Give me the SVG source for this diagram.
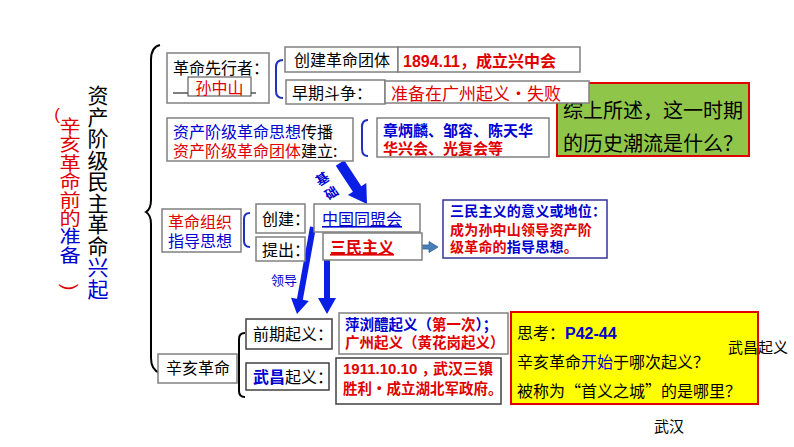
<svg xmlns="http://www.w3.org/2000/svg" width="794" height="447" viewBox="0 0 794 447">
<style>
.box{fill:#fff;stroke:#808080;stroke-width:1.5}
.dk{fill:#fff;stroke:#404040;stroke-width:1.5}
.t{font-family:"Liberation Sans","Noto Sans CJK SC",sans-serif;fill:#000}
.c{font-family:"Noto Sans CJK SC",sans-serif}
.lat{font-family:"Liberation Sans",sans-serif}
.v{writing-mode:vertical-rl}
.s13{font-size:13px}
.s14{font-size:14px}
.s145{font-size:14.5px}
.s15{font-size:15px}
.s16{font-size:16px}
.s17{font-size:17px}
.s18{font-size:18px}
.s20{font-size:20px}
.s21{font-size:21px}
.r{fill:#e00000}
.b{fill:#0000d0}
.bd{font-weight:bold}
.br{fill:none;stroke:#2030c0;stroke-width:2}
.bk{fill:none;stroke:#000;stroke-width:2}
.arr{fill:#0a1ee6}
</style>
<rect width="794" height="447" fill="#fff"/>

<g id="title">
<text class="t c s21 v" x="98" y="85" letter-spacing="0.5">资产阶级民主革命<tspan class="b">兴起</tspan></text>
<text class="t lat r s17" x="57" y="120" text-anchor="middle">(</text>
<g transform="translate(70,0) scale(1.18,1)">
<text class="t c r s18 v" x="0" y="117" letter-spacing="0.5">辛亥革命前的<tspan class="b">准备</tspan></text>
</g>
<text class="t lat r s20" transform="translate(69,287) rotate(90)" y="6" text-anchor="middle">)</text>
</g>

<g id="connectors">
<path class="bk" stroke-width="3.5" d="M160,45 Q151,47 151,60 L151,200 Q151,209 146,212 Q151,215 151,224 L151,358 Q151,370 160,373"/>
<path class="br" d="M283,60 Q276,60 276,67 L276,91 Q276,98 283,98"/>
<path class="br" d="M368,120 Q362,120 362,127 L362,149 Q362,156 368,156"/>
<path class="br" d="M250,213 Q244,213 244,219 L244,241 Q244,247 250,247"/>
<path class="bk" stroke-width="1.8" d="M245,333 Q239,333 239,339 L239,391 Q239,397 245,397"/>
<polygon class="arr" points="344.2,160.25 361.3,186.25 366.3,182.95 367,204 347.9,195.05 352.9,191.75 335.8,165.75"/>
<polygon class="arr" points="310.05,226.46 296.95,298.76 291,297.7 297,314 308.8,300.9 302.85,299.84 315.95,227.54"/>
<polygon class="arr" points="324,260 330,260 330,298 336,298 327,314 318,298 324,298"/>
<polygon fill="#4a7ebb" stroke="#2f5d92" stroke-width="0.8" points="408,245 429,245 429,241.5 438,247 429,252.5 429,249 408,249"/>
<g class="t c b bd s13" text-anchor="middle">
<text transform="translate(325,183) rotate(-33)">基</text>
<text transform="translate(334,197) rotate(-33)">础</text>
</g>
<text class="t c b s13" x="271" y="285">领导</text>
</g>

<g id="pioneer">
<rect class="box" x="167" y="53" width="102" height="50"/>
<text class="t c s16" x="173" y="74">革命先行者：</text>
<line x1="173" y1="93" x2="256" y2="93" stroke="#000" stroke-width="1.2"/>
<rect x="188" y="77" width="63" height="19" fill="#fff" stroke="#404040" stroke-width="1"/>
<text class="t c r s16" x="219.5" y="93.5" text-anchor="middle">孙中山</text>
</g>

<g id="found">
<rect class="box" x="285" y="47" width="113" height="25"/>
<text class="t c s16" x="294" y="66">创建革命团体</text>
</g>
<g id="xingzhonghui">
<rect class="box" x="398" y="47" width="182" height="25"/>
<text class="t r bd s16" x="403" y="67">1894.11，<tspan x="476">成立兴中会</tspan></text>
</g>

<g id="summary">
<rect x="557" y="83" width="192" height="73" fill="#8fc64a" stroke="#e00000" stroke-width="2"/>
<text class="t c s20" x="563" y="118">综上所述，这一时期</text>
<text class="t c s20" x="563" y="151">的历史潮流是什么？</text>
</g>

<g id="early">
<rect class="box" x="286" y="80" width="99" height="24"/>
<text class="t c s16" x="292" y="99">早期斗争：</text>
</g>
<g id="guangzhou">
<rect class="box" x="385" y="81" width="204" height="22"/>
<text class="t c r s17" x="391" y="100">准备在广州起义·失败</text>
</g>

<g id="thought">
<rect class="box" x="167" y="118" width="186" height="43"/>
<text class="t c s16" x="173" y="138"><tspan class="b">资产阶级革命思想</tspan>传播</text>
<text class="t c s16" x="173" y="156.5"><tspan class="r">资产阶级革命团体</tspan>建立:</text>
</g>
<g id="people">
<rect class="box" x="377" y="118" width="172" height="39"/>
<text class="t c b bd s15" x="383" y="136">章炳麟、邹容、陈天华</text>
<text class="t c r bd s15" x="383" y="154">华兴会、光复会等</text>
</g>

<g id="org">
<rect class="box" x="162" y="209" width="79" height="43"/>
<text class="t c r s16" x="168" y="228">革命组织</text>
<text class="t c b s16" x="168" y="247">指导思想</text>
</g>
<g id="create">
<rect class="box" x="256" y="204" width="49" height="29"/>
<text class="t c s16" x="262" y="225">创建：</text>
</g>
<g id="propose">
<rect class="box" x="256" y="237" width="49" height="24"/>
<text class="t c s16" x="262" y="256">提出：</text>
</g>
<g id="tongmenghui">
<rect class="box" x="314" y="204" width="106" height="28"/>
<text class="t c b s16" x="322" y="225" text-decoration="underline">中国同盟会</text>
</g>
<g id="sanmin">
<rect class="box" x="323" y="233" width="99" height="27"/>
<text class="t c r bd s16" x="330" y="253" text-decoration="underline">三民主义</text>
</g>
<g id="meaning">
<rect x="443" y="200" width="164" height="58" fill="#fff" stroke="#333399" stroke-width="1.5"/>
<g class="t c bd s14" letter-spacing="0.2">
<text class="b" x="450" y="216">三民主义的意义或地位：</text>
<text class="r" x="450" y="235">成为孙中山领导资产阶</text>
<text class="r" x="450" y="252">级革命的<tspan class="b">指导思想</tspan>。</text>
</g>
</g>

<g id="xinhai">
<rect class="box" x="158" y="354" width="79" height="29"/>
<text class="t c s16" x="166" y="374">辛亥革命</text>
</g>
<g id="earlyrising">
<rect class="dk" x="246" y="319" width="86" height="30"/>
<text class="t c s16" x="253" y="340">前期起义：</text>
</g>
<g id="wuchang">
<rect class="dk" x="246" y="363" width="83" height="27"/>
<text class="t c s16" x="253" y="383"><tspan class="b bd">武昌</tspan>起义：</text>
</g>
<g id="pingliu">
<rect class="box" x="339" y="313" width="169" height="41"/>
<text class="t c bd s145" x="345" y="330"><tspan class="b">萍浏醴起义（</tspan><tspan class="r">第一次</tspan><tspan class="b">）；</tspan></text>
<text class="t c r bd s145" x="345" y="348">广州起义（黄花岗起义）</text>
</g>
<g id="date1911">
<rect class="dk" x="336" y="358" width="165" height="46"/>
<text class="t r bd s15" x="343" y="374">1911.10.10 ，<tspan x="433">武汉三镇</tspan></text>
<text class="t c r bd s145" x="343" y="394">胜利·成立湖北军政府。</text>
</g>

<g id="think">
<rect x="511" y="312" width="247" height="92" fill="#ffff00" stroke="#e00000" stroke-width="2"/>
<text class="t s16" x="517" y="339">思考：<tspan class="b bd">P42-44</tspan></text>
<text class="t c s16" x="517" y="368">辛亥革命<tspan class="b">开始</tspan>于哪次起义？</text>
<text class="t c s16" x="517" y="397">被称为“首义之城”的是哪里？</text>
</g>

<g id="answer1">
<text class="t c s15" x="728" y="353">武昌起义</text>
</g>
<g id="answer2">
<text class="t c s15" x="654" y="432">武汉</text>
</g>
</svg>
